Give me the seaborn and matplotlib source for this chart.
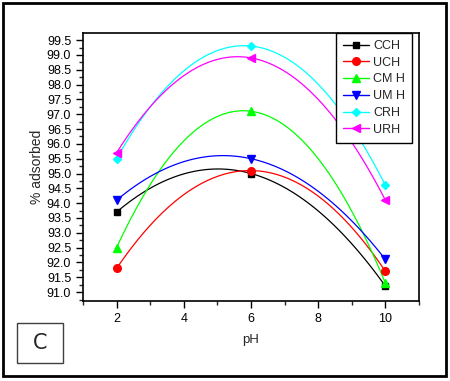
import numpy as np
import pandas as pd
import seaborn as sns
import matplotlib.pyplot as plt
from matplotlib.lines import Line2D
from matplotlib.patches import Rectangle
from matplotlib.ticker import MultipleLocator

ph = [2, 6, 10]
series = ["CCH", "UCH", "CMH", "UMH", "CRH", "URH"]
cch = [93.7, 95.0, 91.2]
uch = [91.8, 95.1, 91.7]
cmh = [92.5, 97.1, 91.3]
umh = [94.1, 95.5, 92.1]
crh = [95.5, 99.3, 94.6]
urh = [95.7, 98.9, 94.1]
legend_labels = ["CCH", "UCH", "CM H", "UM H", "CRH", "URH"]

colors = ["#000000", "#ff0000", "#00ff00", "#0000ff", "#00ffff", "#ff00ff"]
markers = ["s", "o", "^", "v", "D", "<"]
msizes = [5, 5.5, 6, 6, 4.5, 6]

sns.set_style("ticks")
plt.rcParams['font.family'] = ['Liberation Sans', 'DejaVu Sans']

df = pd.DataFrame({
    "pH": ph * 6,
    "ads": cch + uch + cmh + umh + crh + urh,
    "sample": [s for s in series for _ in ph],
})

fig = plt.figure(figsize=(4.5, 3.81), dpi=100)
ax = fig.add_axes([83 / 450, 1 - 301 / 381, 336 / 450, 268 / 381])

for s, c, m, ms in zip(series, colors, markers, msizes):
    sub = df[df["sample"] == s]
    sns.regplot(data=sub, x="pH", y="ads", order=2, ci=None, scatter=False,
                ax=ax, line_kws={"color": c, "lw": 0.9})
    ax.plot(sub["pH"], sub["ads"], ls="none", marker=m, color=c, ms=ms,
            mec=c, zorder=5)

ax.set_xlim(1, 11)
ax.set_ylim(90.7, 99.74)
ax.xaxis.set_major_locator(MultipleLocator(2))
ax.xaxis.set_minor_locator(MultipleLocator(1))
ax.yaxis.set_major_locator(MultipleLocator(0.5))
ax.yaxis.set_minor_locator(MultipleLocator(0.25))
ax.yaxis.set_major_formatter(plt.FormatStrFormatter("%.1f"))
ax.tick_params(which="major", direction="out", length=5, width=1,
               labelsize=9, colors="black")
ax.tick_params(which="minor", direction="out", length=3, width=1)
ax.tick_params(axis="x", pad=4)
for sp in ax.spines.values():
    sp.set_visible(True)
    sp.set_linewidth(1.2)
    sp.set_color("black")

ax.set_xlabel("pH", fontsize=9.5, labelpad=6)
ax.set_ylabel("% adsorbed", fontsize=10, labelpad=2)

handles = [Line2D([0], [0], color=c, marker=m, ms=ms, lw=1)
           for c, m, ms in zip(colors, markers, msizes)]
leg = ax.legend(handles, legend_labels, loc="upper right",
                bbox_to_anchor=(0.979, 1.0), borderaxespad=0, fontsize=9,
                frameon=True, fancybox=False, edgecolor="black", framealpha=1,
                handlelength=2.1, handletextpad=0.3, labelspacing=0.38,
                borderpad=0.55)
leg.get_frame().set_linewidth(1)

# outer frame and panel label
fig.patches.append(Rectangle((3 / 450, 1 - 376 / 381), 443 / 450, 373 / 381,
                             transform=fig.transFigure, fill=False,
                             lw=2, edgecolor="black"))
fig.patches.append(Rectangle((17 / 450, 1 - 363 / 381), 46 / 450, 40 / 381,
                             transform=fig.transFigure, fill=False,
                             lw=1, edgecolor="#404040"))
fig.text(40 / 450, 1 - 343 / 381, "C", fontsize=15, ha="center", va="center",
         family=["DejaVu Sans"])

fig.savefig("out.png", dpi=100)
